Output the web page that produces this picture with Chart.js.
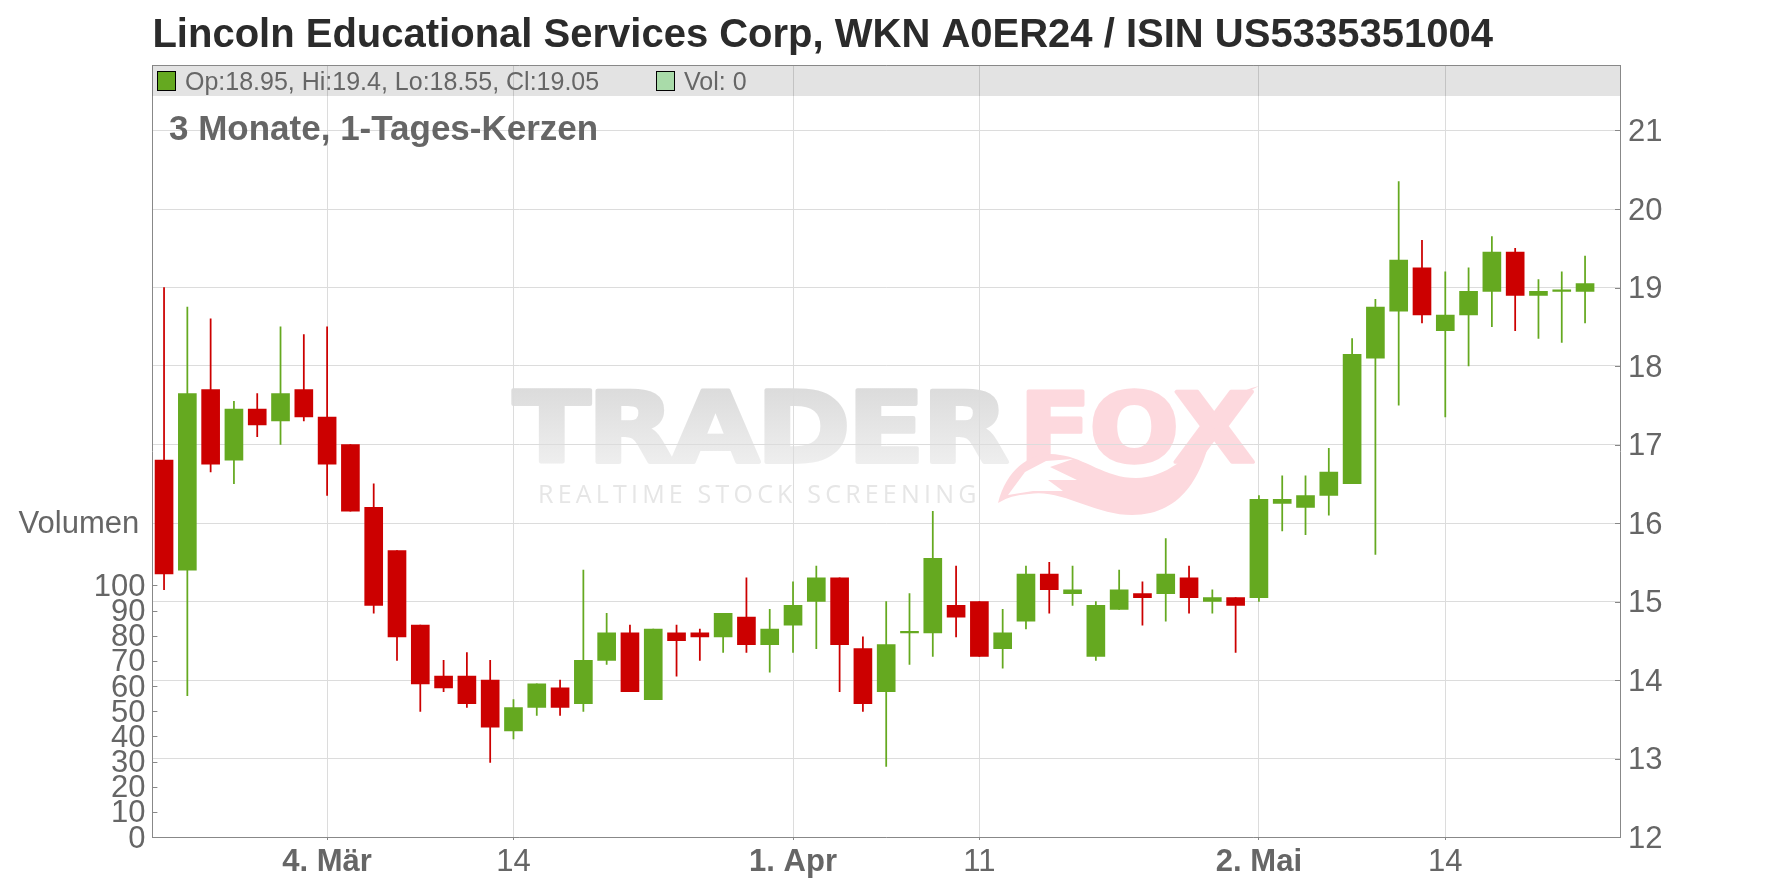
<!DOCTYPE html>
<html lang="de">
<head>
<meta charset="utf-8">
<title>Lincoln Educational Services Corp</title>
<script src="https://cdn.jsdelivr.net/npm/chart.js@4/dist/chart.umd.min.js"></script>
<style>
  html, body { margin: 0; padding: 0; background: #fff; }
  canvas { display: block; }
</style>
</head>
<body>
<canvas id="chart" width="1776" height="888"></canvas>
<script>
// ── Data ──────────────────────────────────────
const categories = [
  '21.02','22.02','25.02','26.02','27.02','28.02','01.03','04.03','05.03','06.03','07.03','08.03',
  '11.03','12.03','13.03','14.03','15.03','18.03','19.03','20.03','21.03','22.03','25.03','26.03',
  '27.03','28.03','29.03','01.04','02.04','03.04','04.04','05.04','08.04','09.04','10.04','11.04',
  '12.04','15.04','16.04','17.04','18.04','22.04','23.04','24.04','25.04','29.04','30.04','02.05',
  '03.05','06.05','07.05','08.05','09.05','10.05','13.05','14.05','15.05','16.05','17.05','20.05',
  '21.05','22.05','23.05'
];
const opens = [
  16.8,15.4,17.7,16.8,17.45,17.3,17.7,17.35,17.0,16.2,15.65,14.7,14.05,14.05,14.0,13.35,
  13.65,13.9,13.7,14.25,14.6,13.75,14.6,14.6,14.55,14.8,14.45,14.7,15.0,15.3,14.4,13.85,
  14.6,14.6,14.95,15.0,14.4,14.75,15.35,15.1,14.3,14.9,15.1,15.1,15.3,15.0,15.05,15.05,
  16.25,16.2,16.35,16.5,18.1,18.7,19.25,18.45,18.65,18.95,19.45,18.9,18.95,18.95
];
const highs = [
  19.0,18.75,18.6,17.55,17.65,18.5,18.4,18.5,17.0,16.5,15.65,14.7,14.25,14.35,14.25,13.75,
  13.95,14.0,15.4,14.85,14.7,14.65,14.7,14.65,14.85,15.3,14.9,15.25,15.45,15.3,14.55,15.0,
  15.1,16.15,15.45,15.0,14.9,15.45,15.5,15.45,15.0,15.4,15.25,15.8,15.45,15.15,15.05,16.35,
  16.6,16.6,16.95,18.35,18.85,20.35,19.6,19.2,19.25,19.65,19.5,19.1,19.2,19.4
];
const lows = [
  15.15,13.8,16.65,16.5,17.1,17.0,17.3,16.35,16.15,14.85,14.25,13.6,13.85,13.65,12.95,13.25,
  13.55,13.55,13.6,14.2,13.85,13.75,14.05,14.25,14.35,14.35,14.1,14.35,14.4,13.85,13.6,12.9,
  14.2,14.3,14.55,14.3,14.15,14.65,14.85,14.95,14.25,14.9,14.7,14.75,14.85,14.85,14.35,15.0,
  15.9,15.85,16.1,16.5,15.6,17.5,18.55,17.35,18.0,18.5,18.45,18.35,18.3,18.55
];
const closes = [
  15.35,17.65,16.75,17.45,17.25,17.65,17.35,16.75,16.15,14.95,14.55,13.95,13.9,13.7,13.4,13.65,
  13.95,13.65,14.25,14.6,13.85,14.65,14.5,14.55,14.85,14.45,14.65,14.95,15.3,14.45,13.7,14.45,
  14.6,15.55,14.8,14.3,14.6,15.35,15.15,15.15,14.95,15.15,15.05,15.35,15.05,15.05,14.95,16.3,
  16.3,16.35,16.65,18.15,18.75,19.35,18.65,18.65,18.95,19.45,18.9,18.95,18.95,19.05
];
const volumes = [
  0,0,0,0,0,0,0,0,0,0,0,0,0,0,0,0,0,0,0,0,0,0,0,0,0,0,0,0,0,0,0,
  0,0,0,0,0,0,0,0,0,0,0,0,0,0,0,0,0,0,0,0,0,0,0,0,0,0,0,0,0,0,0
];
const tickDays   = ['04.03','14.03','01.04','11.04','02.05','14.05'];
const tickLabels = ['4. Mär','14','1. Apr','11','2. Mai','14'];
const boldTicks  = ['4. Mär','1. Apr','2. Mai'];
const priceTicks  = [12,13,14,15,16,17,18,19,20,21];
const volumeTicks = [0,10,20,30,40,50,60,70,80,90,100];
const volumeLabelAt = 125;

// ── Colours / frame ───────────────────────────
const GREEN = '#65a920', RED = '#cc0000', GRID = '#dcdcdc', FRAME = '#888888', TEXT = '#666666';
const FONT = '"Liberation Sans", Arial, sans-serif';
const AREA = { left: 152.4, right: 1620, top: 65, bottom: 837 };

const candleColor = closes.map((c, i) => (c >= opens[i] ? GREEN : RED));
const last = closes.length - 1;

// ── Watermark (sits behind the grid) ──────────
function fitText(ctx, text, x, y, w, h, colors, thick, spacing) {
  ctx.save();
  ctx.font = 'bold 104px "DejaVu Sans"';
  ctx.letterSpacing = spacing;
  ctx.textBaseline = 'alphabetic';
  ctx.textAlign = 'left';
  const m = ctx.measureText(text);
  const cap = m.actualBoundingBoxAscent;
  ctx.translate(x + thick / 2, y + h - thick / 2);
  ctx.scale((w - thick) / m.width, (h - thick) / cap);
  const fill = ctx.createLinearGradient(0, -cap, 0, 0);
  fill.addColorStop(0, colors[0]);
  fill.addColorStop(1, colors[1]);
  ctx.fillStyle = fill;
  ctx.strokeStyle = fill;
  ctx.lineWidth = thick;
  ctx.lineJoin = 'round';
  ctx.strokeText(text, 0, 0);
  ctx.fillText(text, 0, 0);
  ctx.restore();
}

function poly(ctx, pts, fill) {
  ctx.beginPath();
  pts.forEach((p, i) => (i ? ctx.lineTo(p[0], p[1]) : ctx.moveTo(p[0], p[1])));
  ctx.closePath();
  ctx.fillStyle = fill;
  ctx.fill();
}

function drawWatermark(ctx) {
  const PINK = '#fdd9de';
  fitText(ctx, 'TRADER', 511, 388, 497, 76, ['#dcdcdc', '#eeeeee'], 4, '-3px');
  fitText(ctx, 'FOX', 1017, 388, 238, 76, [PINK, PINK], 4, '-2px');

  // tail under the FOX letters
  ctx.fillStyle = PINK;
  ctx.beginPath();
  ctx.moveTo(998, 503);
  ctx.bezierCurveTo(1008, 465, 1035, 450, 1060, 455);
  ctx.bezierCurveTo(1085, 458, 1105, 478, 1136, 478);
  ctx.bezierCurveTo(1165, 478, 1190, 458, 1213, 425);
  ctx.bezierCurveTo(1205, 470, 1185, 515, 1132, 515);
  ctx.bezierCurveTo(1095, 515, 1060, 488, 1029, 494);
  ctx.quadraticCurveTo(1010, 495, 998, 503);
  ctx.fill();
  poly(ctx, [[1008,495],[1025,472],[1046,461],[1073,459],[1050,467],[1077,480],[1048,480],[1063,491],[1033,491]], '#ffffff');

  // flourish off the X
  ctx.fillStyle = PINK;
  ctx.beginPath();
  ctx.moveTo(1213, 428);
  ctx.quadraticCurveTo(1228, 392, 1259, 386);
  ctx.quadraticCurveTo(1236, 396, 1222, 432);
  ctx.closePath();
  ctx.fill();

  ctx.save();
  ctx.font = '25px "Open Sans"';
  ctx.letterSpacing = '4.2px';
  ctx.fillStyle = '#e6e6e6';
  ctx.textBaseline = 'alphabetic';
  ctx.fillText('REALTIME STOCK SCREENING', 538, 503);
  ctx.restore();
}

// ── Header band, sub title, inner tick marks ──
const decorations = {
  id: 'decorations',
  beforeDraw(chart) {
    const ctx = chart.ctx;
    ctx.save();
    ctx.fillStyle = '#ffffff';
    ctx.fillRect(0, 0, chart.width, chart.height);
    drawWatermark(ctx);
    ctx.restore();
  },
  beforeDatasetsDraw(chart) {
    const ctx = chart.ctx;
    const a = chart.chartArea;
    ctx.save();

    ctx.fillStyle = 'rgba(0,0,0,0.11)';
    ctx.fillRect(a.left, a.top, a.right - a.left, 31);
    ctx.strokeStyle = FRAME;
    ctx.lineWidth = 1;
    ctx.beginPath();
    ctx.moveTo(a.left, a.top + 0.5);
    ctx.lineTo(a.right, a.top + 0.5);
    ctx.stroke();

    // legend swatches
    ctx.lineWidth = 1;
    ctx.strokeStyle = '#000000';
    ctx.fillStyle = candleColor[last];
    ctx.fillRect(157.5, 71.5, 18, 19);
    ctx.strokeRect(157.5, 71.5, 18, 19);
    ctx.fillStyle = '#a9dba9';
    ctx.fillRect(656.5, 71.5, 18, 19);
    ctx.strokeRect(656.5, 71.5, 18, 19);

    ctx.textBaseline = 'middle';
    ctx.textAlign = 'left';
    ctx.fillStyle = TEXT;
    ctx.font = '25px ' + FONT;
    ctx.fillText(`Op:${opens[last]}, Hi:${highs[last]}, Lo:${lows[last]}, Cl:${closes[last]}`, 185, 83);
    ctx.fillText(`Vol: ${volumes[last]}`, 684, 83);

    ctx.font = 'bold 35px ' + FONT;
    ctx.fillText('3 Monate, 1-Tages-Kerzen', 169, 130);

    // tick marks point into the plot on both value axes
    ctx.strokeStyle = FRAME;
    ctx.lineWidth = 1;
    ctx.beginPath();
    volumeTicks.forEach(v => {
      const y = Math.round(chart.scales.vol.getPixelForValue(v)) + 0.5;
      ctx.moveTo(a.left, y);
      ctx.lineTo(a.left + 5, y);
    });
    priceTicks.forEach(v => {
      const y = Math.round(chart.scales.price.getPixelForValue(v)) + 0.5;
      ctx.moveTo(a.right - 5, y);
      ctx.lineTo(a.right, y);
    });
    ctx.stroke();
    ctx.restore();
  }
};

// ── Chart ─────────────────────────────────────
const h = AREA.bottom - AREA.top;

new Chart(document.getElementById('chart'), {
  type: 'bar',
  plugins: [decorations],
  data: {
    labels: categories,
    datasets: [
      {
        label: 'Volumen',
        data: volumes,
        yAxisID: 'vol',
        backgroundColor: 'rgba(0,0,0,0)',
        barThickness: 18,
        order: 3
      },
      {
        label: 'Hi/Lo',
        data: lows.map((l, i) => [l, highs[i]]),
        yAxisID: 'price',
        backgroundColor: candleColor,
        barThickness: 1.1,
        order: 2
      },
      {
        label: 'Op/Cl',
        data: opens.map((o, i) => [o, closes[i]]),
        yAxisID: 'price',
        backgroundColor: candleColor,
        barThickness: 18,
        minBarLength: 1.5,
        order: 1
      }
    ]
  },
  options: {
    responsive: false,
    animation: false,
    events: [],
    layout: { padding: 0 },
    datasets: { bar: { grouped: false, borderWidth: 0 } },
    plugins: {
      legend: { display: false },
      tooltip: { enabled: false },
      title: {
        display: true,
        text: 'Lincoln Educational Services Corp, WKN A0ER24 / ISIN US5335351004',
        align: 'start',
        fullSize: false,
        color: '#2b2b2b',
        font: { family: FONT, size: 40, weight: 'bold', lineHeight: 1.2 },
        padding: { top: 12, bottom: 5 }
      }
    },
    scales: {
      x: {
        offset: true,
        afterBuildTicks(scale) {
          scale.ticks = tickDays.map(d => ({ value: categories.indexOf(d) }));
        },
        afterFit(scale) { scale.height = 888 - AREA.bottom; },
        border: { color: FRAME },
        grid: { color: GRID, offset: false, tickColor: FRAME, tickLength: 3 },
        ticks: {
          autoSkip: false,
          maxRotation: 0,
          padding: 4,
          color: TEXT,
          callback: (v, i) => tickLabels[i],
          font: ctx => ({
            family: FONT,
            size: 31,
            weight: boldTicks.includes(tickLabels[ctx.index]) ? 'bold' : 'normal'
          })
        }
      },
      vol: {
        position: 'left',
        min: 0,
        max: h / 2.516,
        afterBuildTicks(scale) {
          scale.ticks = volumeTicks.concat(volumeLabelAt).map(v => ({ value: v }));
        },
        afterFit(scale) { scale.width = AREA.left; },
        border: { color: FRAME },
        grid: { display: false, drawTicks: false },
        ticks: {
          padding: 7,
          labelOffset: 2,
          color: TEXT,
          font: { family: FONT, size: 31 },
          callback: v => (v === volumeLabelAt ? 'Volumen\u2009' : v)
        }
      },
      price: {
        position: 'right',
        min: 12,
        max: 12 + h / 78.5,
        afterBuildTicks(scale) {
          scale.ticks = priceTicks.map(v => ({ value: v }));
        },
        afterFit(scale) { scale.width = 1776 - AREA.right; },
        border: { color: FRAME },
        grid: { color: GRID, drawTicks: false },
        ticks: {
          padding: 8,
          labelOffset: 2,
          color: TEXT,
          font: { family: FONT, size: 31 }
        }
      }
    }
  }
});
</script>
</body>
</html>
